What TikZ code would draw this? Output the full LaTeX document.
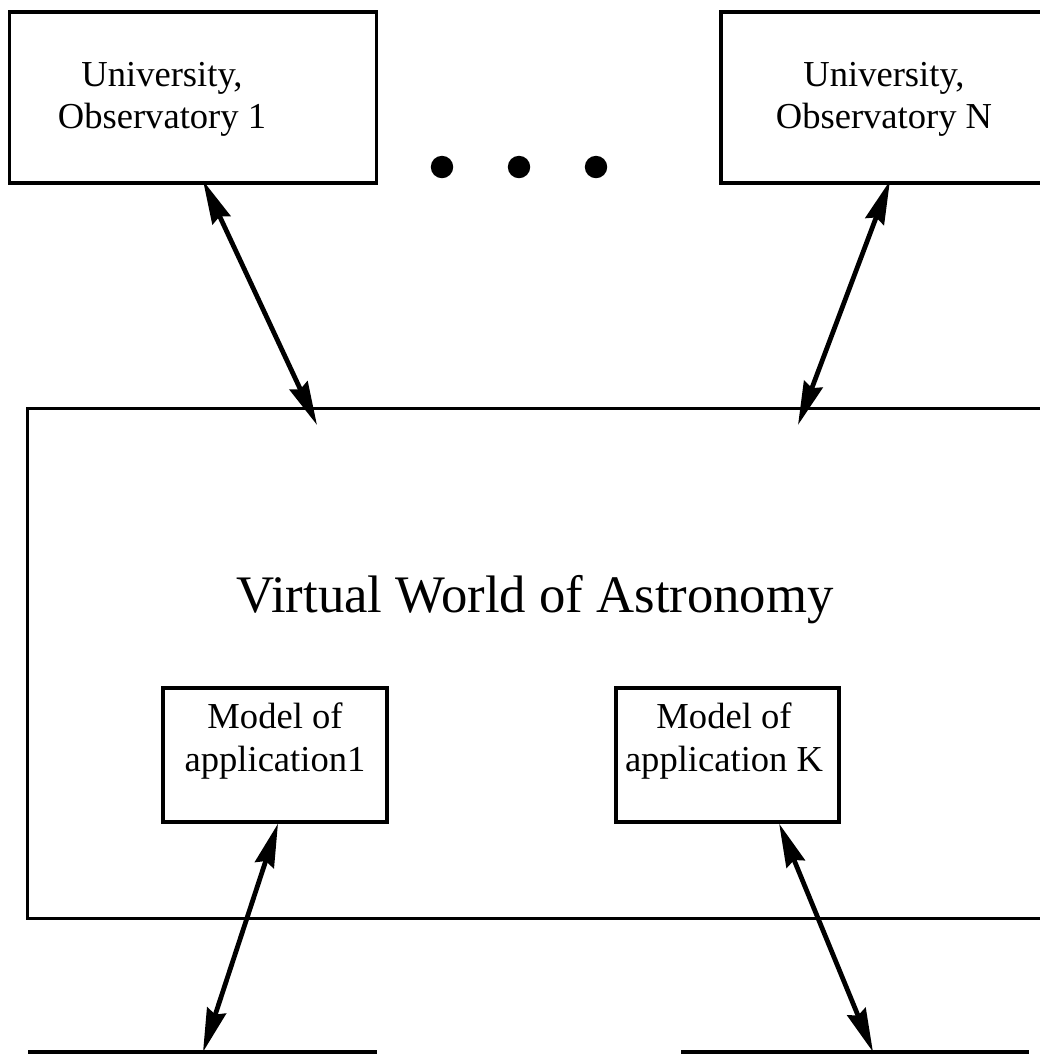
\documentclass[tikz,border=0pt]{standalone}
\usepackage{fontspec}
\setmainfont{Liberation Serif}
\usetikzlibrary{positioning, arrows.meta}

\begin{document}
\begin{tikzpicture}[
                x=0.025cm, y=-0.025cm,
                box/.style={rectangle, draw, line width=2.2pt, inner sep=0pt},
                lbl/.style={align=center, font=\fontsize{26}{30}\selectfont, inner sep=0pt},
                link/.style={line width=3.4pt, {Stealth[length=31pt, width=14pt, inset=3pt]}-{Stealth[length=31pt, width=14pt, inset=3pt]}},
                base/.style={line width=2.4pt},
                dot/.style={circle, fill, minimum size=0.56cm, inner sep=0pt}
            ]
                \useasboundingbox (0,0) rectangle (1040,1054);

                % Top row - the observatories
                \node[box, minimum width=9.15cm, minimum height=4.275cm] (obs1) at (193,97.5) {};
                \node[box, minimum width=8.6cm, minimum height=4.275cm] (obsN) at (893,97.5) {};
                \node[lbl] at (162,99) {University,\\Observatory 1};
                \node[lbl] at (884,99) {University,\\Observatory N};

                \node[dot] (d1) at (442,167) {};
                \node[dot] (d2) at (519,167) {};
                \node[dot] (d3) at (596,167) {};

                % Middle - the virtual world
                \node[box, minimum width=25.925cm, minimum height=12.725cm] (world) at (546.5,663.5) {};
                \node[lbl, font=\fontsize{37.5}{44}\selectfont] at (535,600) {Virtual World of Astronomy};

                \node[box, minimum width=5.6cm, minimum height=3.35cm] (mod1) at (275,755) {};
                \node[box, minimum width=5.575cm, minimum height=3.35cm] (modK) at (727.5,755) {};
                \node[lbl] at (275,741) {Model of\\application1};
                \node[lbl] at (724,741) {Model of\\application K};

                % Bottom - the users
                \coordinate (u1w) at (28,1052);
                \coordinate (u1e) at (377,1052);
                \coordinate (uKw) at (681,1052);
                \coordinate (uKe) at (1029,1052);
                \draw[base] (u1w) -- (u1e);
                \draw[base] (uKw) -- (uKe);

                % Connectors
                \coordinate (in1) at (317,425);
                \coordinate (inN) at (798,425);
                \coordinate (u1) at (203,1052);
                \coordinate (uK) at (873,1052);
                \draw[link] ([xshift=0.25cm, yshift=0.1cm]obs1.south) -- (in1);
                \draw[link] ([xshift=-0.075cm, yshift=0.1cm]obsN.south) -- (inN);
                \draw[link] ([xshift=0.075cm]mod1.south) -- (u1);
                \draw[link] ([xshift=1.29cm]modK.south) -- (uK);

            \end{tikzpicture}
\end{document}
